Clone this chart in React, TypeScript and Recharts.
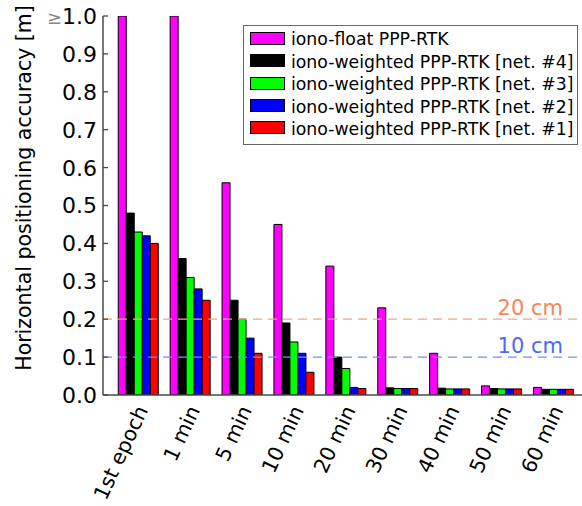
import React from 'react';
import { BarChart, Bar, XAxis, YAxis, ReferenceLine } from 'recharts';

const categories = ['1st epoch', '1 min', '5 min', '10 min', '20 min', '30 min', '40 min', '50 min', '60 min'];
const ionoFloat = [1.0, 1.0, 0.56, 0.45, 0.34, 0.23, 0.11, 0.024, 0.02];
const net4 = [0.48, 0.36, 0.25, 0.19, 0.1, 0.019, 0.018, 0.017, 0.015];
const net3 = [0.43, 0.31, 0.2, 0.14, 0.07, 0.017, 0.016, 0.016, 0.015];
const net2 = [0.42, 0.28, 0.15, 0.11, 0.02, 0.017, 0.016, 0.016, 0.015];
const net1 = [0.4, 0.25, 0.11, 0.06, 0.017, 0.017, 0.016, 0.016, 0.015];
const yTicks = [0, 0.1, 0.2, 0.3, 0.4, 0.5, 0.6, 0.7, 0.8, 0.9, 1.0];

const seriesKeys = ['ionoFloat', 'net4', 'net3', 'net2', 'net1'];
const seriesNames = [
  'iono-float PPP-RTK',
  'iono-weighted PPP-RTK [net. #4]',
  'iono-weighted PPP-RTK [net. #3]',
  'iono-weighted PPP-RTK [net. #2]',
  'iono-weighted PPP-RTK [net. #1]',
];
const seriesColors = ['#ff00ff', '#000000', '#00ff00', '#0000ff', '#ff0000'];
const seriesValues = [ionoFloat, net4, net3, net2, net1];

const data = categories.map((c, i) => {
  const row: Record<string, string | number> = { cat: c };
  seriesKeys.forEach((k, j) => {
    row[k] = seriesValues[j][i];
  });
  return row;
});

const FONT = '"DejaVu Sans", sans-serif';
const AXIS = '#4a4a4a';

const YTick = (props: any) => {
  const { x, y, payload } = props;
  const v = payload.value as number;
  return (
    <g>
      <line x1={x} y1={y} x2={x + 5} y2={y} stroke={AXIS} strokeWidth={1.3} />
      <text x={x - 6} y={y} dy="0.36em" textAnchor="end" fontSize={22} fontFamily={FONT} fill="#000">
        {v >= 1 ? (
          <>
            <tspan fill="#888" fontSize={18}>≥</tspan>
            <tspan>1.0</tspan>
          </>
        ) : (
          v.toFixed(1)
        )}
      </text>
    </g>
  );
};

const BottomTick = (props: any) => {
  const { x, y, payload } = props;
  const ax = x + 11;
  const ay = y + 15;
  return (
    <g>
      <line x1={x - 11.5} y1={y} x2={x - 11.5} y2={y - 5} stroke={AXIS} strokeWidth={1.3} />
      <text
        x={ax}
        y={ay}
        transform={`rotate(-65, ${ax}, ${ay})`}
        textAnchor="end"
        fontSize={20.5}
        fontFamily={FONT}
        fill="#000"
      >
        {payload.value}
      </text>
    </g>
  );
};

const TopTick = (props: any) => {
  const { x, y } = props;
  return <line x1={x - 11.5} y1={y} x2={x - 11.5} y2={y + 5} stroke={AXIS} strokeWidth={1.3} />;
};

const YLabel = () => (
  <text
    x={31}
    y={188}
    transform="rotate(-90, 31, 188)"
    textAnchor="middle"
    fontSize={20.5}
    fontFamily={FONT}
    fill="#000"
  >
    Horizontal positioning accuracy [m]
  </text>
);

const RefLabel = (props: any) => {
  const { viewBox, text, color } = props;
  const y = viewBox ? viewBox.y : 0;
  return (
    <text x={563} y={y - 4} textAnchor="end" fontSize={21} fontFamily={FONT} fill={color}>
      {text}
    </text>
  );
};

export default function App() {
  return (
    <div style={{ position: 'absolute', left: 0, top: 0, width: 582, height: 506, background: '#fff' }}>
      <BarChart
        width={582}
        height={506}
        data={data}
        margin={{ top: 16, right: 0, bottom: 0, left: 0 }}
        barCategoryGap={6.7}
        barGap={0}
      >
        <XAxis
          dataKey="cat"
          xAxisId={0}
          height={111}
          padding={{ left: 8.55, right: 3.35 }}
          tickSize={0}
          tickMargin={0}
          tickLine={false}
          axisLine={{ stroke: AXIS, strokeWidth: 1.5 }}
          tick={<BottomTick />}
          interval={0}
        />
        <XAxis
          dataKey="cat"
          xAxisId="top"
          orientation="top"
          height={0}
          padding={{ left: 8.55, right: 3.35 }}
          tickSize={0}
          tickMargin={0}
          tickLine={false}
          axisLine={{ stroke: AXIS, strokeWidth: 1.5 }}
          tick={<TopTick />}
          interval={0}
        />
        <YAxis
          width={103}
          domain={[0, 1]}
          ticks={yTicks}
          allowDataOverflow
          tickSize={0}
          tickMargin={0}
          tickLine={false}
          axisLine={{ stroke: AXIS, strokeWidth: 1.5 }}
          tick={<YTick />}
          interval={0}
          label={<YLabel />}
        />
        {seriesKeys.map((k, j) => (
          <Bar
            key={k}
            dataKey={k}
            xAxisId={0}
            name={seriesNames[j]}
            fill={seriesColors[j]}
            stroke="#000"
            strokeWidth={1}
            isAnimationActive={false}
          />
        ))}
        <ReferenceLine
          y={0.2}
          xAxisId={0}
          stroke="#f4a486"
          strokeWidth={1.2}
          strokeDasharray="9 6"
          label={<RefLabel text="20 cm" color="#fa8558" />}
        />
        <ReferenceLine
          y={0.1}
          xAxisId={0}
          stroke="#7590f2"
          strokeWidth={1.2}
          strokeDasharray="9 6"
          label={<RefLabel text="10 cm" color="#4a6af5" />}
        />
      </BarChart>
      <div
        style={{
          position: 'absolute',
          left: 243,
          top: 25,
          width: 335,
          height: 120,
          boxSizing: 'border-box',
          border: '1.5px solid #666',
          background: '#fff',
          fontFamily: FONT,
        }}
      >
        {seriesNames.map((n, i) => (
          <React.Fragment key={n}>
            <div
              style={{
                position: 'absolute',
                left: 6.2,
                top: 5.8 + i * 22.4,
                width: 35,
                height: 13,
                boxSizing: 'border-box',
                border: '1px solid #000',
                background: seriesColors[i],
              }}
            />
            <div
              style={{
                position: 'absolute',
                left: 47,
                top: 3.3 + i * 22.4,
                fontSize: 17.3,
                lineHeight: '20px',
                whiteSpace: 'nowrap',
                color: '#000',
              }}
            >
              {n}
            </div>
          </React.Fragment>
        ))}
      </div>
    </div>
  );
}
